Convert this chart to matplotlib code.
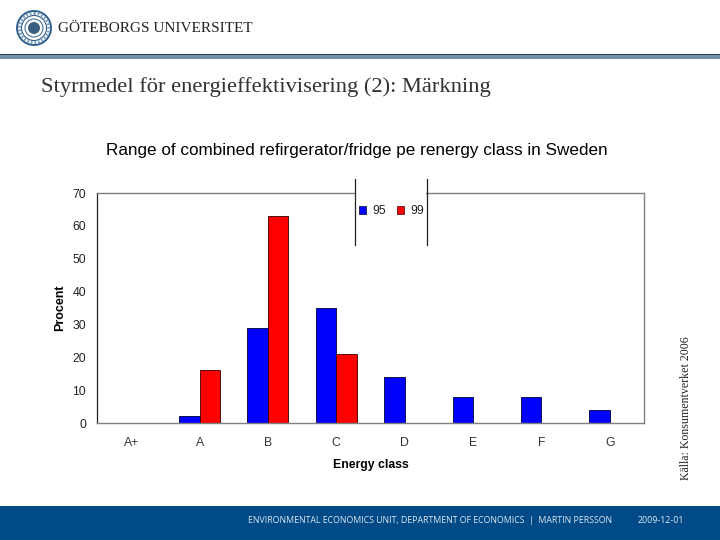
import matplotlib
matplotlib.use("Agg")
import matplotlib.pyplot as plt
from matplotlib.patches import Circle, Rectangle, Patch
from matplotlib.lines import Line2D
import numpy as np

categories = ["A+", "A", "B", "C", "D", "E", "F", "G"]
series_95 = [0, 2, 29, 35, 14, 8, 8, 4]
series_99 = [0, 16, 63, 21, 0, 0, 0, 0]
yticks = [0, 10, 20, 30, 40, 50, 60, 70]

W, H = 720, 540
fig = plt.figure(figsize=(7.2, 5.4), dpi=100, facecolor="white")

# page furniture, in pixel coordinates
page = fig.add_axes([0, 0, 1, 1], zorder=0)
page.set_xlim(0, W); page.set_ylim(H, 0); page.axis("off")
page.add_patch(Rectangle((0, 506), W, 34, color="#004a87", lw=0))
page.add_patch(Rectangle((0, 55), W, 4, color="#6f8fab", lw=0))
page.add_patch(Rectangle((0, 54), W, 1, color="#33475a", lw=0))
for r, lw in [(17, 1.4), (12.5, 0.8), (9, 0.7)]:
    page.add_patch(Circle((34, 28), r, fill=False, ec="#2f5f8f", lw=lw))
page.add_patch(Circle((34, 28), 14.7, fill=False, ec="#7f9fbf", lw=2.2, ls=(0, (0.6, 0.6))))
page.add_patch(Circle((34, 28), 6, color="#3a5f85", lw=0))
page.text(58, 29, "GÖTEBORGS UNIVERSITET", family="Liberation Serif", fontsize=10.95,
          color="#222222", va="center", ha="left")
page.text(41, 87, "Styrmedel för energieffektivisering (2): Märkning",
          family="Liberation Serif", fontsize=16.2, color="#333333", va="center", ha="left")
page.text(357, 150.5, "Range of combined refirgerator/fridge pe renergy class in Sweden",
          family="Liberation Sans", fontsize=12.35, color="black", va="center", ha="center")
page.text(686, 408, "Källa: Konsumentverket 2006", family="Liberation Serif", fontsize=8.6,
          rotation=90, va="center", ha="center", color="#222222")
page.text(248, 520.5, "ENVIRONMENTAL ECONOMICS UNIT, DEPARTMENT OF ECONOMICS  |  MARTIN PERSSON",
          family="Open Sans", fontsize=6.29, color="#dfe8f0", va="center", ha="left")
page.text(638, 520.5, "2009-12-01", family="Open Sans", fontsize=6.4, color="#dfe8f0",
          va="center", ha="left")

# chart
left, right, top, bottom = 97, 644, 193, 423
ax = fig.add_axes([left / W, 1 - bottom / H, (right - left) / W, (bottom - top) / H], zorder=1)
ax.patch.set_alpha(0)
x = np.arange(len(categories))
bw = 0.3
ax.bar(x - bw / 2, series_95, bw, color="#0000ff", edgecolor="#000033", linewidth=0.6, label="95")
ax.bar(x + bw / 2, series_99, bw, color="#ff0000", edgecolor="#330000", linewidth=0.6, label="99")
ax.set_xlim(-0.5, 7.5)
ax.set_ylim(0, 70)
ax.set_yticks(yticks)
ax.set_xticks(x, categories)
for s in ["top", "right", "bottom"]:
    ax.spines[s].set_color("#808080")
    ax.spines[s].set_linewidth(1.0)
ax.spines["left"].set_color("#222222")
ax.spines["left"].set_linewidth(0.9)
ax.tick_params(axis="y", length=0, pad=8, labelsize=8.8, labelcolor="#222222")
ax.tick_params(axis="x", length=0, pad=10, labelsize=8.8, labelcolor="#333333")
for t in ax.get_xticklabels() + ax.get_yticklabels():
    t.set_family("Liberation Sans")
ax.set_xlabel("Energy class", family="Liberation Sans", fontweight="bold", fontsize=8.8)
ax.xaxis.set_label_coords((371 - left) / (right - left), -(459 - bottom) / (bottom - top), transform=ax.transAxes)
ax.set_ylabel("Procent", family="Liberation Sans", fontweight="bold", fontsize=9)
ax.yaxis.set_label_coords((66 - left) / (right - left), (bottom - 308) / (bottom - top), transform=ax.transAxes)

# legend gap on top of the chart
over = fig.add_axes([0, 0, 1, 1], zorder=2)
over.set_xlim(0, W); over.set_ylim(H, 0); over.axis("off")
over.add_patch(Rectangle((355, 186), 71, 14, color="white", lw=0))
over.add_line(Line2D([354.5, 354.5], [179, 245], color="#222222", lw=0.9))
over.add_line(Line2D([426.5, 426.5], [179, 245], color="#222222", lw=0.9))
handles = [Patch(facecolor="#0000ff", edgecolor="#000033", lw=0.5, label="95"),
           Patch(facecolor="#ff0000", edgecolor="#330000", lw=0.5, label="99")]
over.legend(handles=handles, ncol=2, frameon=False, loc="center",
            bbox_to_anchor=(391.5 / W, 1 - 211 / H), bbox_transform=fig.transFigure,
            prop={"family": "Liberation Sans", "size": 8.8}, handlelength=0.6, handleheight=0.6,
            handletextpad=0.55, columnspacing=0.85, labelcolor="#222222")

fig.savefig("out.png", dpi=100)
